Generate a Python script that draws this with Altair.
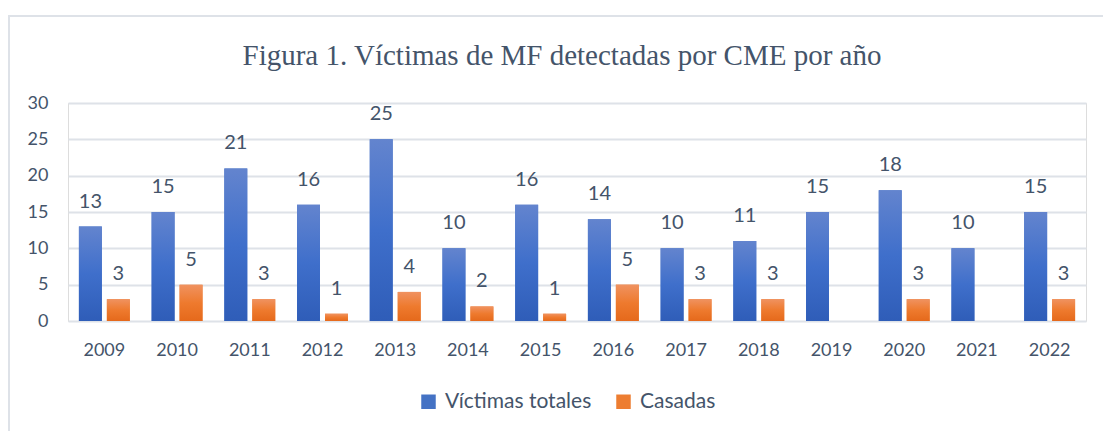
import altair as alt
import pandas as pd

years = ["2009", "2010", "2011", "2012", "2013", "2014", "2015", "2016",
         "2017", "2018", "2019", "2020", "2021", "2022"]
victimas = [13, 15, 21, 16, 25, 10, 16, 14, 10, 11, 15, 18, 10, 15]
casadas = [3, 5, 3, 1, 4, 2, 1, 5, 3, 3, None, 3, None, 3]
series = ["Víctimas totales", "Casadas"]
colors = ["#4472C4", "#ED7D31"]

rows = []
for y, v, c in zip(years, victimas, casadas):
    rows.append({"year": y, "serie": series[0], "value": v})
    rows.append({"year": y, "serie": series[1], "value": c})
df = pd.DataFrame(rows)

TXT = "#44546A"
FONT = "Lato"

x = alt.X("year:N", sort=years, title=None,
          scale=alt.Scale(paddingInner=0.3, paddingOuter=0.15),
          axis=alt.Axis(labelAngle=0, labelFont=FONT, labelFontSize=18,
                        labelColor=TXT, labelPadding=20, domain=False,
                        ticks=False, grid=False))
y = alt.Y("value:Q", title=None,
          scale=alt.Scale(domain=[0, 30], nice=False),
          axis=alt.Axis(values=[0, 5, 10, 15, 20, 25, 30], labelFont=FONT,
                        labelFontSize=18, labelColor=TXT, labelPadding=20,
                        domain=False, ticks=False, gridColor="#DEE2E8",
                        gridWidth=2))
xo = alt.XOffset("serie:N", sort=series,
                 scale=alt.Scale(domain=series, paddingInner=0.18))

base = alt.Chart(df)

bars = base.mark_bar().encode(
    x=x, y=y, xOffset=xo,
    color=alt.Color("serie:N", sort=series,
                    scale=alt.Scale(domain=series, range=colors),
                    legend=alt.Legend(title=None, orient="none", direction="horizontal",
                                      legendX=350, legendY=288,
                                      symbolType="square", symbolSize=210,
                                      symbolStrokeWidth=0,
                                      labelFont=FONT, labelFontSize=21,
                                      labelColor=TXT, columnPadding=21,
                                      labelOffset=6)),
)

blue_grad = alt.LinearGradient(gradient="linear", x1=0, x2=0, y1=0, y2=1,
                               stops=[alt.GradientStop(color="#6384CE", offset=0),
                                      alt.GradientStop(color="#3F6FCB", offset=0.5),
                                      alt.GradientStop(color="#2F5DB8", offset=1)])
orange_grad = alt.LinearGradient(gradient="linear", x1=0, x2=0, y1=0, y2=1,
                                 stops=[alt.GradientStop(color="#F09260", offset=0),
                                        alt.GradientStop(color="#EE7A2E", offset=0.5),
                                        alt.GradientStop(color="#E5691B", offset=1)])

blue_bars = base.transform_filter(alt.datum.serie == series[0]).mark_bar(
    color=blue_grad).encode(x=x, y=y, xOffset=xo)
orange_bars = base.transform_filter(alt.datum.serie == series[1]).mark_bar(
    color=orange_grad).encode(x=x, y=y, xOffset=xo)

labels = base.transform_filter("isValid(datum.value)").mark_text(
    font=FONT, fontSize=20, color=TXT, baseline="alphabetic", dy=-19
).encode(x=x, y=y, xOffset=xo, text=alt.Text("value:Q"))

border = alt.Chart(pd.DataFrame({"a": [0]})).mark_rect(
    fill=None, stroke="#DEE2E8", strokeWidth=2
).encode(x=alt.value(-59), x2=alt.value(1040), y=alt.value(-87), y2=alt.value(345))

chart = alt.layer(border, bars, blue_bars, orange_bars, labels).properties(
    width=1018, height=218,
    title=alt.TitleParams("Figura 1. Víctimas de MF detectadas por CME por año",
                          font="Liberation Serif", fontSize=29, fontWeight="normal",
                          color=TXT, anchor="middle", offset=-56, dx=-15),
    autosize=alt.AutoSizeParams(type="none"),
    padding={"left": 68, "top": 103, "right": 17, "bottom": 110},
).configure_view(stroke=None).configure(background="white")

chart.save("out.html", embed_options={"renderer": "svg", "actions": False})
